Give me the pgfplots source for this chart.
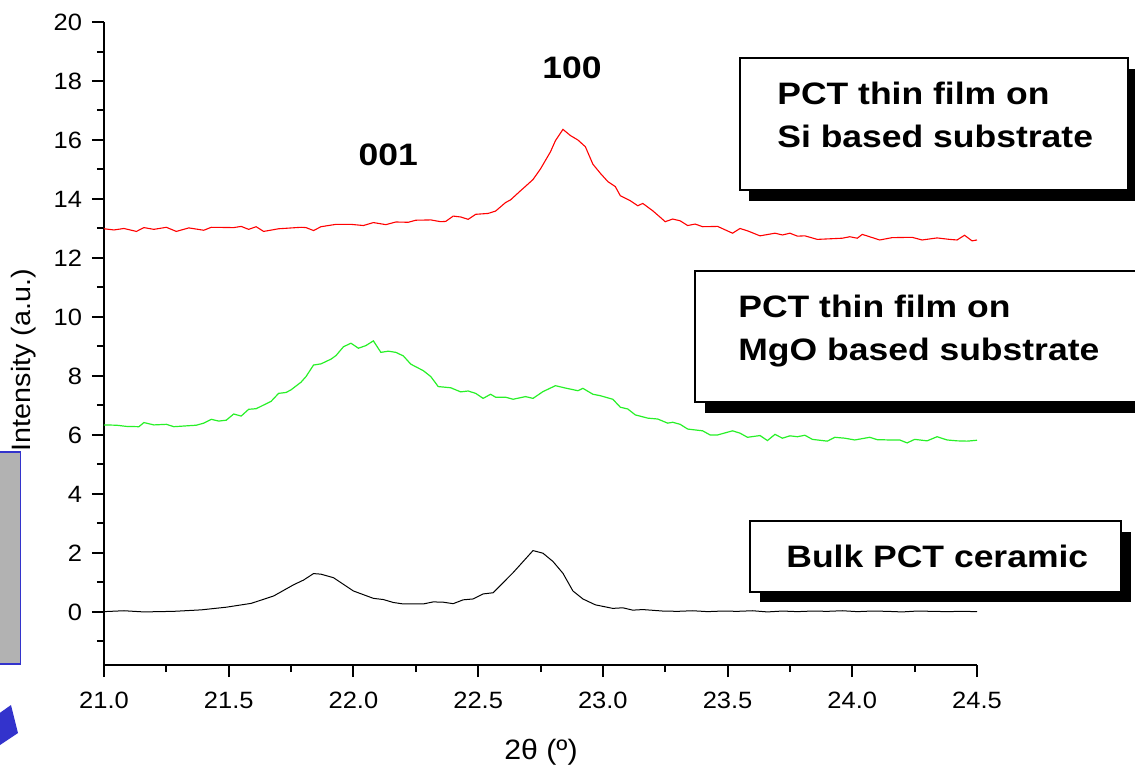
\documentclass[border=0pt]{standalone}
\usepackage{pgfplots}
\pgfplotsset{compat=1.18}
\usepackage{fontspec}
\setmainfont{Liberation Sans}[FakeStretch=1.08]
\newfontfamily\boxfont{Liberation Sans}[FakeStretch=1.145]
\definecolor{myred}{RGB}{255,0,0}
\definecolor{mygreen}{RGB}{40,240,40}
\definecolor{myblue}{RGB}{51,51,204}
\definecolor{mygray}{RGB}{178,178,178}

\pgfplotstableread{
x y
21.00 12.99
21.04 12.95
21.08 13.00
21.13 12.90
21.16 13.03
21.20 12.97
21.25 13.04
21.29 12.90
21.34 13.02
21.40 12.94
21.43 13.04
21.52 13.03
21.55 13.07
21.58 12.97
21.61 13.06
21.64 12.90
21.70 12.99
21.79 13.04
21.81 13.03
21.84 12.93
21.87 13.06
21.93 13.14
21.99 13.14
22.04 13.10
22.08 13.20
22.13 13.13
22.17 13.22
22.22 13.21
22.25 13.28
22.31 13.29
22.35 13.23
22.37 13.24
22.40 13.42
22.43 13.39
22.46 13.31
22.49 13.48
22.54 13.51
22.57 13.59
22.61 13.88
22.63 13.97
22.67 14.28
22.69 14.43
22.72 14.66
22.75 15.02
22.79 15.60
22.81 15.98
22.84 16.36
22.87 16.15
22.90 16.00
22.93 15.77
22.96 15.18
22.99 14.87
23.02 14.59
23.05 14.42
23.07 14.11
23.11 13.94
23.14 13.77
23.16 13.85
23.20 13.60
23.23 13.38
23.25 13.23
23.28 13.32
23.31 13.26
23.34 13.10
23.37 13.15
23.40 13.06
23.46 13.07
23.52 12.84
23.55 13.00
23.58 12.92
23.63 12.75
23.69 12.84
23.72 12.78
23.75 12.84
23.78 12.74
23.81 12.75
23.86 12.63
23.96 12.67
23.99 12.72
24.02 12.67
24.04 12.80
24.11 12.61
24.16 12.69
24.24 12.70
24.28 12.61
24.34 12.68
24.39 12.63
24.42 12.61
24.45 12.77
24.48 12.58
24.50 12.61
}\redtable

\pgfplotstableread{
x y
21.00 6.34
21.05 6.33
21.09 6.29
21.14 6.28
21.16 6.42
21.20 6.34
21.25 6.36
21.28 6.28
21.37 6.33
21.40 6.40
21.43 6.53
21.46 6.47
21.49 6.50
21.52 6.71
21.55 6.64
21.58 6.87
21.61 6.89
21.67 7.14
21.70 7.41
21.73 7.44
21.75 7.53
21.79 7.79
21.81 7.98
21.84 8.37
21.87 8.41
21.91 8.57
21.93 8.69
21.96 8.99
21.99 9.11
22.02 8.94
22.05 9.03
22.08 9.19
22.11 8.80
22.14 8.84
22.17 8.80
22.20 8.68
22.23 8.40
22.28 8.18
22.31 7.98
22.34 7.64
22.39 7.60
22.43 7.46
22.46 7.49
22.49 7.41
22.52 7.24
22.55 7.38
22.57 7.28
22.61 7.28
22.64 7.21
22.69 7.30
22.72 7.24
22.76 7.47
22.81 7.67
22.85 7.59
22.90 7.50
22.92 7.58
22.96 7.38
22.99 7.33
23.04 7.21
23.07 6.94
23.10 6.88
23.13 6.68
23.18 6.57
23.22 6.54
23.26 6.40
23.28 6.43
23.31 6.36
23.34 6.20
23.40 6.14
23.43 6.00
23.46 6.00
23.52 6.14
23.55 6.06
23.58 5.92
23.63 5.98
23.66 5.81
23.69 6.02
23.72 5.89
23.75 5.97
23.78 5.94
23.81 5.99
23.84 5.85
23.90 5.79
23.93 5.92
23.97 5.89
24.01 5.83
24.07 5.92
24.10 5.84
24.15 5.83
24.19 5.83
24.22 5.73
24.25 5.85
24.30 5.80
24.34 5.94
24.38 5.83
24.42 5.80
24.46 5.79
24.50 5.82
}\greentable

\pgfplotstableread{
x y
21.00 0.01
21.08 0.04
21.16 0.00
21.28 0.02
21.39 0.07
21.49 0.16
21.59 0.29
21.68 0.54
21.76 0.92
21.80 1.08
21.84 1.30
21.87 1.28
21.92 1.16
22.00 0.71
22.08 0.46
22.12 0.42
22.16 0.32
22.20 0.27
22.28 0.27
22.32 0.34
22.36 0.33
22.40 0.28
22.44 0.41
22.48 0.44
22.52 0.61
22.56 0.65
22.64 1.33
22.72 2.08
22.76 1.99
22.80 1.71
22.84 1.31
22.88 0.71
22.92 0.44
22.97 0.24
23.04 0.12
23.08 0.14
23.12 0.06
23.16 0.08
23.24 0.03
23.30 0.02
23.36 0.04
23.42 0.01
23.48 0.03
23.54 0.02
23.60 0.04
23.66 0.00
23.72 0.03
23.78 0.01
23.84 0.03
23.90 0.02
23.96 0.04
24.02 0.01
24.08 0.03
24.14 0.02
24.20 0.00
24.26 0.03
24.32 0.02
24.38 0.01
24.44 0.02
24.50 0.01
}\blacktable

\begin{document}
\begin{tikzpicture}
\begin{scope}[x=0.5pt,y=-0.5pt]
\useasboundingbox (0,0) rectangle (1135,768);
\clip (0,0) rectangle (1135,768);
\fill[mygray] (0,452) rectangle (20.5,664);
\draw[myblue, line width=0.6pt] (-2,452) -- (20.5,452) -- (20.5,664) -- (-2,664);
\fill[myblue] (-6,717) -- (11,705) -- (18,733) -- (-6,749) -- cycle;
\end{scope}

\begin{axis}[
  at={(52pt,-332.5pt)}, anchor=south west,
  scale only axis, width=436.5pt, height=321.5pt,
  xmin=21, xmax=24.5, ymin=-1.8, ymax=20,
  axis x line*=bottom, axis y line*=left,
  axis line style={line width=1.25pt, black},
  xtick={21,21.5,...,24.5},
  minor xtick={21.25,21.75,...,24.25},
  ytick={0,2,...,20},
  minor ytick={-1,1,...,19},
  tick align=outside,
  major tick length=6pt, minor tick length=3.5pt,
  every tick/.style={line width=1pt, black},
  /pgf/number format/assume math mode=true,
  ticklabel style={font=\fontsize{11.8}{14}\selectfont},
  xticklabel style={yshift=-4pt, /pgf/number format/.cd, fixed, fixed zerofill, precision=1},
  yticklabel style={xshift=-1.5pt},
  clip=false,
]
\addplot[myred, line width=0.55pt] table[x=x,y=y] {\redtable};
\addplot[mygreen, line width=0.6pt] table[x=x,y=y] {\greentable};
\addplot[black, line width=0.5pt] table[x=x,y=y] {\blacktable};
\node[font={\boxfont\bfseries\fontsize{15.5}{18}\selectfont}] at (axis cs:22.876,18.44) {100};
\node[font={\boxfont\bfseries\fontsize{15.5}{18}\selectfont}] at (axis cs:22.14,15.49) {001};
\end{axis}

\begin{scope}[x=0.5pt,y=-0.5pt]
\clip (0,0) rectangle (1135,768);
\node[rotate=90, font=\fontsize{13.3}{15}\selectfont] at (24,360) {Intensity (a.u.)};
\node[font=\fontsize{14}{16}\selectfont] at (541,752) {2θ (º)};
% Si box
\fill[black] (749,69) rectangle (1137,201);
\filldraw[fill=white, draw=black, line width=0.75pt] (740,58) rectangle (1128,190);
\node[anchor=base west, inner sep=0pt, font={\boxfont\bfseries\fontsize{15.5}{18}\selectfont}] at (777,104) {PCT thin film on};
\node[anchor=base west, inner sep=0pt, font={\boxfont\bfseries\fontsize{15.5}{18}\selectfont}] at (777,147) {Si based substrate};
% MgO box
\fill[black] (705,282) rectangle (1150,413);
\filldraw[fill=white, draw=black, line width=0.75pt] (695,271) rectangle (1145,402);
\node[anchor=base west, inner sep=0pt, font={\boxfont\bfseries\fontsize{15.5}{18}\selectfont}] at (738,317) {PCT thin film on};
\node[anchor=base west, inner sep=0pt, font={\boxfont\bfseries\fontsize{15.5}{18}\selectfont}] at (738,360) {MgO based substrate};
% Bulk box
\fill[black] (760,532) rectangle (1131,602);
\filldraw[fill=white, draw=black, line width=0.75pt] (750,521) rectangle (1121,592);
\node[anchor=base west, inner sep=0pt, font={\boxfont\bfseries\fontsize{15.5}{18}\selectfont}] at (786,567) {Bulk PCT ceramic};
\end{scope}
\end{tikzpicture}
\end{document}
